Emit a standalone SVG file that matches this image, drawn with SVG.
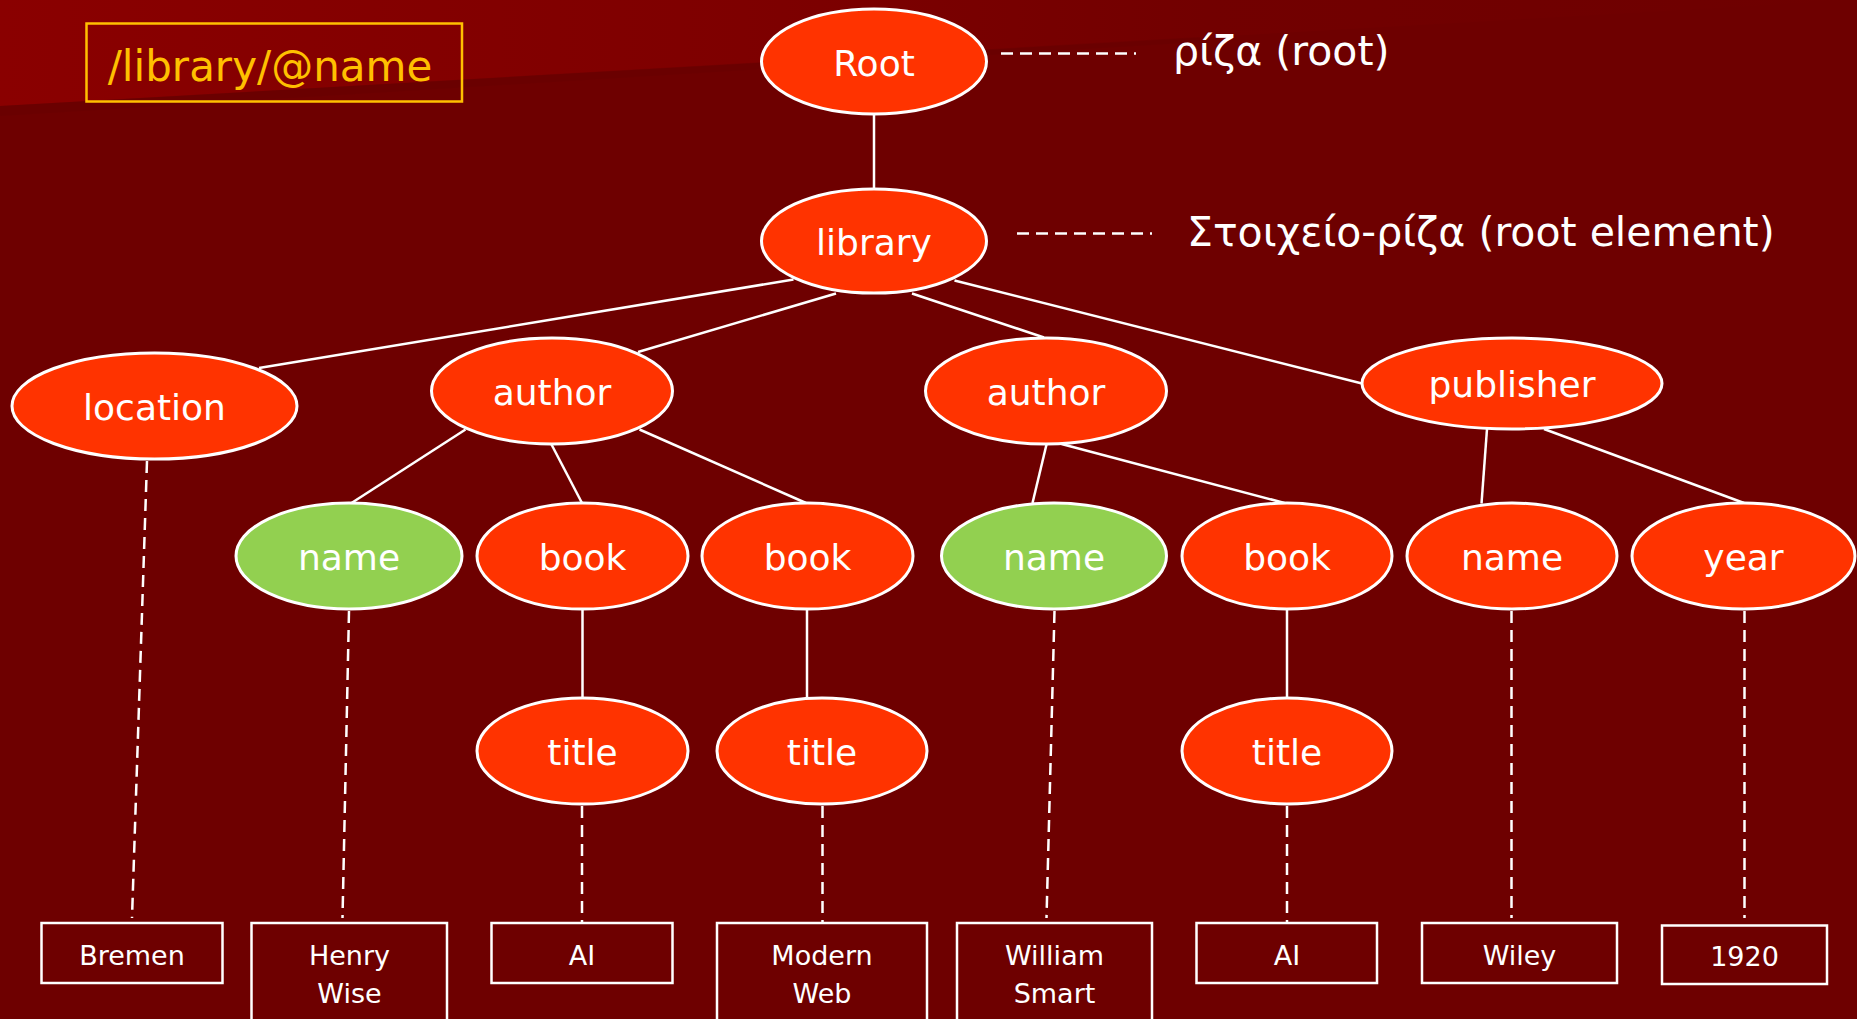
<svg xmlns="http://www.w3.org/2000/svg" width="1857" height="1019" viewBox="0 0 1857 1019">
<defs>
<linearGradient id="band" x1="0" y1="0" x2="1" y2="0">
<stop offset="0" stop-color="#8A0000"/>
<stop offset="0.4" stop-color="#7E0000"/>
<stop offset="0.65" stop-color="#720000"/>
<stop offset="1" stop-color="#6E0000"/>
</linearGradient>
<style>
.node ellipse{stroke:#FFFFFF;stroke-width:3}
.el ellipse{fill:#FF3300}
.gr ellipse{fill:#92D050}
.node text{font-family:"DejaVu Sans","Liberation Sans",sans-serif;font-size:36px;fill:#FFFFFF;text-anchor:middle}
.val rect{fill:none;stroke:#FFFFFF;stroke-width:2.5}
.val text{font-family:"DejaVu Sans","Liberation Sans",sans-serif;font-size:27px;fill:#FFFFFF;text-anchor:middle}
.edge{stroke:#FFFFFF;stroke-width:2.5;fill:none}
.dash{stroke:#FFFFFF;stroke-width:2.5;fill:none;stroke-dasharray:12 7}
.note{font-family:"DejaVu Sans","Liberation Sans",sans-serif;font-size:41px;fill:#FFFFFF}
</style>
</defs>
<rect width="1857" height="1019" fill="#6E0000"/>
<polygon points="0,0 1857,0 1857,0 0,106" fill="url(#band)"/>
<polygon points="0,106 1200,37 1200,42 0,116" fill="#650000" opacity="0.3"/>

<g id="xpath">
<rect x="86.5" y="23.5" width="375.5" height="78" fill="none" stroke="#FFC000" stroke-width="2.5"/>
<text x="270" y="80.5" font-family="DejaVu Sans, Liberation Sans, sans-serif" font-size="42" fill="#FFC000" text-anchor="middle">/library/@name</text>
</g>

<g id="connectors">
<line class="edge" x1="874" y1="114" x2="874" y2="189"/>
<line class="edge" x1="793.5" y1="279.5" x2="259" y2="368"/>
<line class="edge" x1="836" y1="293.5" x2="638" y2="352"/>
<line class="edge" x1="912" y1="293.5" x2="1044" y2="337.5"/>
<line class="edge" x1="954.5" y1="280.5" x2="1362" y2="383.5"/>
<line class="edge" x1="465.5" y1="429.5" x2="351.5" y2="503"/>
<line class="edge" x1="551.5" y1="444.5" x2="582" y2="503"/>
<line class="edge" x1="639.5" y1="429.5" x2="806" y2="503"/>
<line class="edge" x1="1046.5" y1="444.5" x2="1032.5" y2="503"/>
<line class="edge" x1="1061.5" y1="444" x2="1284.5" y2="503"/>
<line class="edge" x1="1487" y1="429" x2="1481.5" y2="503.5"/>
<line class="edge" x1="1544" y1="429" x2="1744" y2="503"/>
<line class="edge" x1="582.5" y1="609" x2="582.5" y2="698"/>
<line class="edge" x1="807" y1="609" x2="807" y2="699"/>
<line class="edge" x1="1287" y1="609" x2="1287" y2="698"/>
<line class="dash" x1="1001" y1="53.5" x2="1136" y2="53.5"/>
<line class="dash" x1="1017" y1="233.5" x2="1152" y2="233.5"/>
<line class="dash" x1="147" y1="461" x2="132" y2="918"/>
<line class="dash" x1="349" y1="611" x2="342.5" y2="918"/>
<line class="dash" x1="582" y1="806" x2="582" y2="923"/>
<line class="dash" x1="822.5" y1="806" x2="822.5" y2="923"/>
<line class="dash" x1="1054.5" y1="611" x2="1046.5" y2="918"/>
<line class="dash" x1="1287" y1="806" x2="1287" y2="923"/>
<line class="dash" x1="1511.5" y1="611" x2="1511.5" y2="918"/>
<line class="dash" x1="1744.5" y1="611" x2="1744.5" y2="918"/>
</g>

<g id="n-root" class="node el"><ellipse cx="874" cy="61.5" rx="112.5" ry="52.5"/><text x="874" y="76">Root</text></g>
<g id="n-library" class="node el"><ellipse cx="874" cy="241" rx="112.5" ry="52"/><text x="874" y="255">library</text></g>
<g id="n-location" class="node el"><ellipse cx="154.5" cy="406" rx="142.5" ry="53"/><text x="154.5" y="420">location</text></g>
<g id="n-author1" class="node el"><ellipse cx="552" cy="391" rx="120.5" ry="53"/><text x="552" y="405">author</text></g>
<g id="n-author2" class="node el"><ellipse cx="1046" cy="391" rx="120.5" ry="53"/><text x="1046" y="405">author</text></g>
<g id="n-publisher" class="node el"><ellipse cx="1512" cy="383.5" rx="150" ry="45.5"/><text x="1512" y="397">publisher</text></g>
<g id="n-name1" class="node gr"><ellipse cx="349" cy="556" rx="113" ry="53"/><text x="349" y="570">name</text></g>
<g id="n-book1" class="node el"><ellipse cx="582.5" cy="556" rx="105.5" ry="53"/><text x="582.5" y="570">book</text></g>
<g id="n-book2" class="node el"><ellipse cx="807.5" cy="556" rx="105.5" ry="53"/><text x="807.5" y="570">book</text></g>
<g id="n-name2" class="node gr"><ellipse cx="1054" cy="556" rx="112.5" ry="53"/><text x="1054" y="570">name</text></g>
<g id="n-book3" class="node el"><ellipse cx="1287" cy="556" rx="105" ry="53"/><text x="1287" y="570">book</text></g>
<g id="n-name3" class="node el"><ellipse cx="1512" cy="556" rx="105" ry="53"/><text x="1512" y="570">name</text></g>
<g id="n-year" class="node el"><ellipse cx="1743.5" cy="556" rx="111.5" ry="53"/><text x="1743.5" y="570">year</text></g>
<g id="n-title1" class="node el"><ellipse cx="582.5" cy="751" rx="105.5" ry="53"/><text x="582.5" y="765">title</text></g>
<g id="n-title2" class="node el"><ellipse cx="822" cy="751" rx="105" ry="53"/><text x="822" y="765">title</text></g>
<g id="n-title3" class="node el"><ellipse cx="1287" cy="751" rx="105" ry="53"/><text x="1287" y="765">title</text></g>

<g id="v-bremen" class="val"><rect x="41.5" y="923" width="181" height="60"/><text x="132" y="965">Bremen</text></g>
<g id="v-henry" class="val"><rect x="251.5" y="923" width="195.5" height="110"/><text x="349.5" y="965">Henry</text><text x="349.5" y="1002.5">Wise</text></g>
<g id="v-ai1" class="val"><rect x="491.5" y="923" width="181" height="60"/><text x="582" y="965">AI</text></g>
<g id="v-modern" class="val"><rect x="717" y="923" width="210" height="110"/><text x="822" y="965">Modern</text><text x="822" y="1002.5">Web</text></g>
<g id="v-william" class="val"><rect x="957" y="923" width="195" height="110"/><text x="1054.5" y="965">William</text><text x="1054.5" y="1002.5">Smart</text></g>
<g id="v-ai2" class="val"><rect x="1196.5" y="923" width="180.5" height="60"/><text x="1287" y="965">AI</text></g>
<g id="v-wiley" class="val"><rect x="1422" y="923" width="195" height="60"/><text x="1519.5" y="965">Wiley</text></g>
<g id="v-1920" class="val"><rect x="1662" y="925.5" width="165" height="58.5"/><text x="1744.5" y="966">1920</text></g>

<g id="label-root"><text class="note" x="1173" y="65">ρίζα (root)</text></g>
<g id="label-rootelement"><text class="note" x="1187" y="246">Στοιχείο-ρίζα (root element)</text></g>
</svg>
